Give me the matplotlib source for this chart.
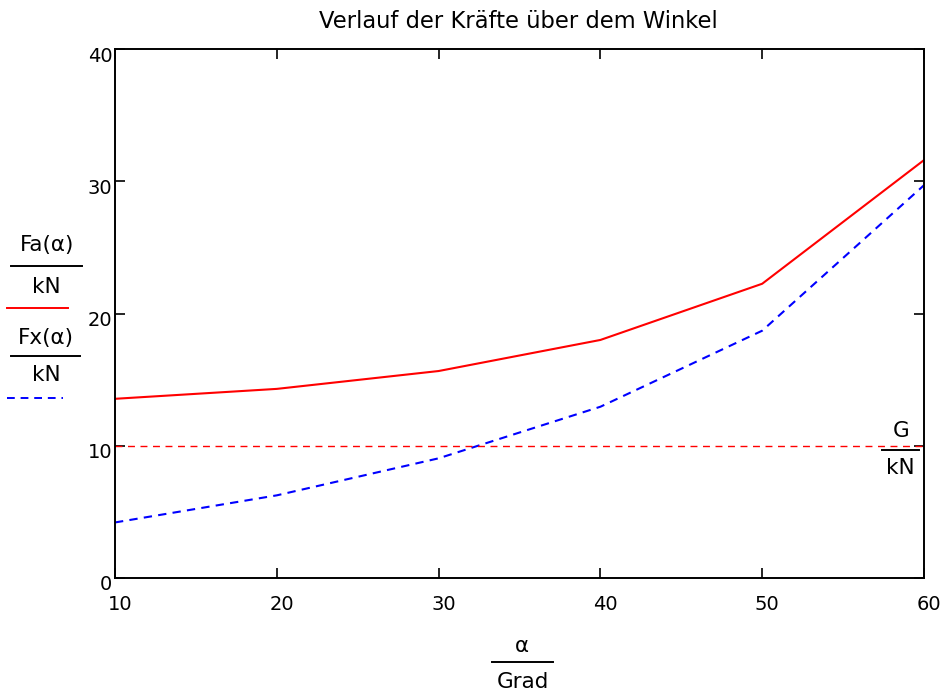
import matplotlib
matplotlib.use("Agg")
import matplotlib.pyplot as plt
from matplotlib.lines import Line2D
import matplotlib.transforms as mtransforms

plt.rcParams['font.family'] = ['DejaVu Sans']

alpha_deg = [10, 20, 30, 40, 50, 60]
Fa = [13.55, 14.3, 15.65, 18.0, 22.25, 31.6]
Fx = [4.2, 6.25, 9.05, 12.95, 18.7, 29.7]
G = 10
xticks = [10, 20, 30, 40, 50, 60]
yticks = [0, 10, 20, 30, 40]

W, H = 947, 695
fig = plt.figure(figsize=(W / 100, H / 100), dpi=100)

def fx(px):
    return px / W

def fy(py):
    return 1 - py / H

L, R, T, B = 115, 924, 49, 578
ax = fig.add_axes([fx(L), fy(B), fx(R) - fx(L), fy(T) - fy(B)])
ax.plot(alpha_deg, Fa, color='#ff0000', lw=1.5)
ax.plot(alpha_deg, Fx, color='#0000ff', lw=1.5, dashes=(4, 3))
ax.axhline(G, color='#ff0000', lw=1.0, dashes=(5, 4))
ax.set_xlim(10, 60)
ax.set_ylim(0, 40)
ax.set_xticks(xticks)
ax.set_yticks(yticks)
ax.tick_params(direction='in', length=7, width=1.2, labelsize=14, top=True, right=True)
ax.tick_params(axis='x', pad=12)
ax.tick_params(axis='y', pad=2)
for s in ax.spines.values():
    s.set_linewidth(1.4)

# shift tick labels like the reference (x right, y down)
dx = mtransforms.ScaledTranslation(5 / 100, 0, fig.dpi_scale_trans)
dy = mtransforms.ScaledTranslation(0, -5 / 100, fig.dpi_scale_trans)
for lab in ax.get_xticklabels():
    lab.set_transform(lab.get_transform() + dx)
for lab in ax.get_yticklabels():
    lab.set_transform(lab.get_transform() + dy)

fig.text(fx(518), fy(21), 'Verlauf der Kräfte über dem Winkel', ha='center', va='center', fontsize=16.3)

FS = 15.5

def txt(x, y, s):
    fig.text(fx(x), fy(y), s, ha='center', va='center', fontsize=FS)

def hline(x0, x1, y, color='black', **kw):
    fig.add_artist(Line2D([fx(x0), fx(x1)], [fy(y), fy(y)], color=color, lw=1.4, **kw))

# Fa(α)/kN
txt(47, 245, 'Fa(α)')
hline(11, 82, 266)
txt(46, 287, 'kN')
hline(7, 68, 308, color='#ff0000')

# Fx(α)/kN
txt(46, 338, 'Fx(α)')
hline(11, 80, 356)
txt(46, 375, 'kN')
hline(7, 63, 398, color='#0000ff', dashes=(4, 3))

# G/kN
txt(901, 431, 'G')
hline(882, 919, 450)
txt(900, 468, 'kN')

# α/Grad
txt(522, 646, 'α')
hline(492, 553, 662)
txt(523, 682, 'Grad')

fig.savefig('out.png', dpi=100)
